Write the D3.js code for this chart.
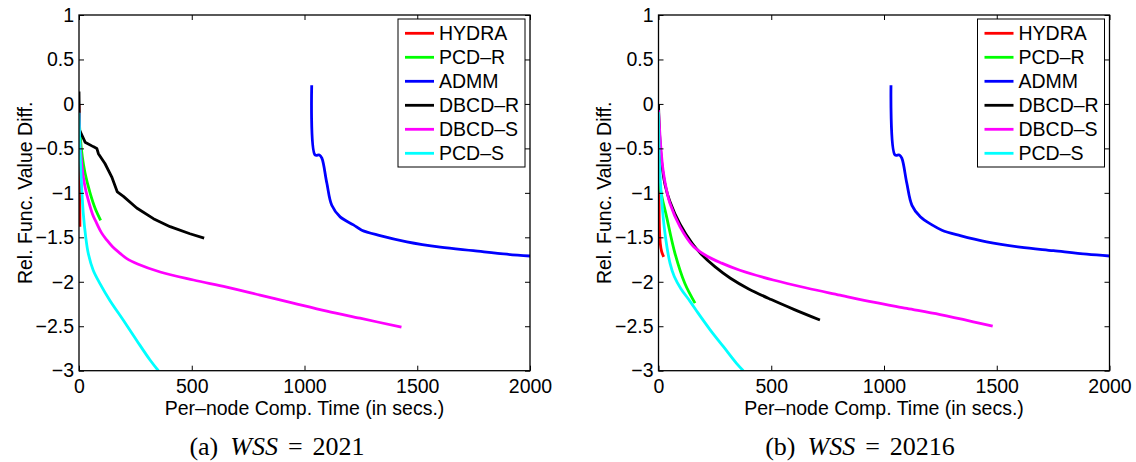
<!DOCTYPE html>
<html>
<head>
<meta charset="utf-8">
<script src="https://cdn.jsdelivr.net/npm/d3@7"></script>
<style>
  html, body { margin: 0; padding: 0; background: #fff; }
  svg { display: block; }
  text { font-family: "Liberation Sans", Arial, sans-serif; }
</style>
</head>
<body>
<svg id="chart" width="1136" height="462"></svg>
<script>
// ---------------- DATA ----------------
const seriesNames = ["HYDRA", "PCD\u2013R", "ADMM", "DBCD\u2013R", "DBCD\u2013S", "PCD\u2013S"];
const seriesColors = ["#ff0000", "#00ff00", "#0000ff", "#000000", "#ff00ff", "#00ffff"];
const xTicks = [0, 500, 1000, 1500, 2000];
const xTickLabels = ["0", "500", "1000", "1500", "2000"];
const yTicks = [1, 0.5, 0, -0.5, -1, -1.5, -2, -2.5, -3];
const yTickLabels = ["1", "0.5", "0", "\u22120.5", "\u22121", "\u22121.5", "\u22122", "\u22122.5", "\u22123"];
const xLabel = "Per\u2013node Comp. Time (in secs.)";
const yLabel = "Rel. Func. Value Diff.";
const captionTags = ["(a)", "(b)"];
const captionValues = ["2021", "20216"];

// panel (a): WSS = 2021  — [time, value]
const hydraA = [[0, 0], [1, -0.3], [2, -0.6], [3, -1.0], [4, -1.38]];
const pcdrA = [[0, -0.1], [5, -0.35], [15, -0.6], [27, -0.78], [49, -1.0], [71, -1.17], [96, -1.31]];
const admmA = [[1032, 0.21], [1047, -0.575], [1066, -0.575], [1077, -0.61], [1099, -0.89], [1121, -1.14], [1158, -1.27],
  [1217, -1.36], [1254, -1.42], [1335, -1.48], [1454, -1.55], [1602, -1.61], [1749, -1.65], [1898, -1.69], [2000, -1.71]];
const dbcdrA = [[0, 0.14], [2, -0.29], [27, -0.43], [63, -0.48], [79, -0.5], [86, -0.56], [115, -0.67], [145, -0.82],
  [170, -0.99], [197, -1.04], [256, -1.17], [330, -1.29], [404, -1.38], [492, -1.46], [555, -1.51]];
const dbcdsA = [[0, -0.1], [4, -0.44], [10, -0.62], [19, -0.82], [30, -0.97], [41, -1.08], [60, -1.24], [78, -1.34],
  [100, -1.45], [123, -1.53], [150, -1.61], [182, -1.68], [212, -1.74], [260, -1.8], [360, -1.89], [508, -1.98],
  [655, -2.06], [803, -2.15], [950, -2.24], [1099, -2.33], [1246, -2.41], [1430, -2.51]];
const pcdsA = [[0, -0.1], [3, -0.4], [7.5, -0.71], [19, -1.23], [30, -1.5], [41, -1.68], [63, -1.87], [93, -2.02],
  [137, -2.21], [196, -2.43], [256, -2.66], [315, -2.88], [352, -3.0]];

// panel (b): WSS = 20216
const hydraB = [[0, 0.0], [1, -0.5], [2, -1.0], [4, -1.38], [8, -1.57], [14, -1.66], [23, -1.72]];
const pcdrB = [[0, -0.1], [3, -0.6], [7, -0.93], [36, -1.27], [73, -1.68], [117, -2.02], [162, -2.24]];
const admmB = [[1031, 0.21], [1049, -0.575], [1068, -0.575], [1079, -0.61], [1101, -0.89], [1124, -1.14], [1161, -1.27],
  [1213, -1.36], [1257, -1.42], [1338, -1.48], [1455, -1.55], [1603, -1.61], [1751, -1.65], [1899, -1.69], [2000, -1.71]];
const dbcdrB = [[0, 0], [5, -0.35], [15, -0.68], [30, -0.92], [51, -1.1], [95, -1.35], [150, -1.57], [190, -1.69],
  [250, -1.83], [319, -1.96], [400, -2.08], [500, -2.2], [600, -2.31], [716, -2.43]];
const dbcdsB = [[0, -0.07], [10, -0.48], [21, -0.76], [35, -0.96], [51, -1.12], [95, -1.38], [154, -1.6], [214, -1.71],
  [280, -1.79], [361, -1.87], [509, -1.98], [657, -2.07], [805, -2.15], [953, -2.23], [1101, -2.3], [1249, -2.37],
  [1396, -2.45], [1482, -2.5]];
const pcdsB = [[0, -0.09], [3.5, -0.63], [14, -1.08], [29, -1.46], [51, -1.79], [70, -1.94], [100, -2.08], [140, -2.22],
  [175, -2.35], [229, -2.54], [288, -2.73], [347, -2.92], [376, -3.0]];

const panelSeries = [
  [hydraA, pcdrA, admmA, dbcdrA, dbcdsA, pcdsA],
  [hydraB, pcdrB, admmB, dbcdrB, dbcdsB, pcdsB]
];

// ---------------- LAYOUT ----------------
const svg = d3.select("#chart");
const panels = [
  { left: 79, right: 530, ylabX: 32, capX: 277 },
  { left: 658.5, right: 1109.5, ylabX: 611, capX: 860 }
];
const plotTop = 15, plotBottom = 370.7;
const fontSize = 19.5;
const tickLen = 5;

panels.forEach((p, pi) => {
  const x = d3.scaleLinear().domain([0, 2000]).range([p.left, p.right]);
  const y = d3.scaleLinear().domain([-3, 1]).range([plotBottom, plotTop]);
  const g = svg.append("g");

  const clipId = "clip" + pi;
  svg.append("clipPath").attr("id", clipId)
    .append("rect").attr("x", p.left).attr("y", plotTop)
    .attr("width", p.right - p.left).attr("height", plotBottom - plotTop);

  // lines
  const line = d3.line().x(d => x(d[0])).y(d => y(d[1])).curve(d3.curveCatmullRom.alpha(0.5));
  const lineLin = d3.line().x(d => x(d[0])).y(d => y(d[1])).curve(d3.curveLinear);
  const lg = g.append("g").attr("clip-path", `url(#${clipId})`);
  panelSeries[pi].forEach((data, si) => {
    const jagged = (pi === 0 && si === 3);
    lg.append("path")
      .attr("d", (jagged ? lineLin : line)(data))
      .attr("fill", "none")
      .attr("stroke", seriesColors[si])
      .attr("stroke-width", 2.8)
      .attr("stroke-linejoin", "round")
      .attr("stroke-linecap", "butt");
  });

  // axes
  const axB = d3.axisBottom(x).tickValues(xTicks).tickSize(-tickLen).tickPadding(8)
    .tickFormat((d, i) => xTickLabels[i]);
  const axT = d3.axisTop(x).tickValues(xTicks).tickSize(-tickLen).tickFormat(() => "");
  const axL = d3.axisLeft(y).tickValues(yTicks).tickSize(-tickLen).tickPadding(5)
    .tickFormat((d, i) => yTickLabels[i]);
  const axR = d3.axisRight(y).tickValues(yTicks).tickSize(-tickLen).tickFormat(() => "");

  const styleAxis = sel => {
    sel.select(".domain").remove();
    sel.selectAll(".tick line").attr("stroke", "#000").attr("stroke-width", 1);
    sel.selectAll(".tick text").attr("fill", "#000")
      .style("font-family", '"Liberation Sans", Arial, sans-serif')
      .style("font-size", fontSize + "px");
  };
  g.append("g").attr("transform", `translate(0,${plotBottom})`).call(axB).call(styleAxis);
  g.append("g").attr("transform", `translate(0,${plotTop})`).call(axT).call(styleAxis);
  g.append("g").attr("transform", `translate(${p.left},0)`).call(axL).call(styleAxis);
  g.append("g").attr("transform", `translate(${p.right},0)`).call(axR).call(styleAxis);

  // box
  g.append("rect").attr("x", p.left).attr("y", plotTop)
    .attr("width", p.right - p.left).attr("height", plotBottom - plotTop)
    .attr("fill", "none").attr("stroke", "#000").attr("stroke-width", 1.3);

  // axis labels
  g.append("text").attr("x", (p.left + p.right) / 2).attr("y", 415)
    .attr("text-anchor", "middle").style("font-size", fontSize + "px").text(xLabel);
  g.append("text").attr("transform", `translate(${p.ylabX},${(plotTop + plotBottom) / 2}) rotate(-90)`)
    .attr("text-anchor", "middle").style("font-size", fontSize + "px").text(yLabel);

  // legend
  const lgX = p.right - 132, lgY = plotTop + 4, lgW = 127, lgH = 148;
  const leg = g.append("g");
  leg.append("rect").attr("x", lgX).attr("y", lgY).attr("width", lgW).attr("height", lgH)
    .attr("fill", "#fff").attr("stroke", "#000").attr("stroke-width", 1);
  seriesNames.forEach((name, si) => {
    const cy = lgY + 14.3 + si * 24;
    leg.append("line").attr("x1", lgX + 7).attr("x2", lgX + 36).attr("y1", cy).attr("y2", cy)
      .attr("stroke", seriesColors[si]).attr("stroke-width", 2.8);
    leg.append("text").attr("x", lgX + 41).attr("y", cy).attr("dy", "0.36em")
      .style("font-size", fontSize + "px").text(name);
  });

  // caption
  const cap = g.append("text").attr("x", p.capX).attr("y", 455).attr("text-anchor", "middle")
    .style("font-family", '"Liberation Serif", "Times New Roman", serif').style("font-size", "26px");
  cap.append("tspan").text(captionTags[pi]);
  cap.append("tspan").attr("dx", 12).style("font-style", "italic").text("WSS");
  cap.append("tspan").attr("dx", 10).text("=");
  cap.append("tspan").attr("dx", 10).text(captionValues[pi]);
});
</script>
</body>
</html>
